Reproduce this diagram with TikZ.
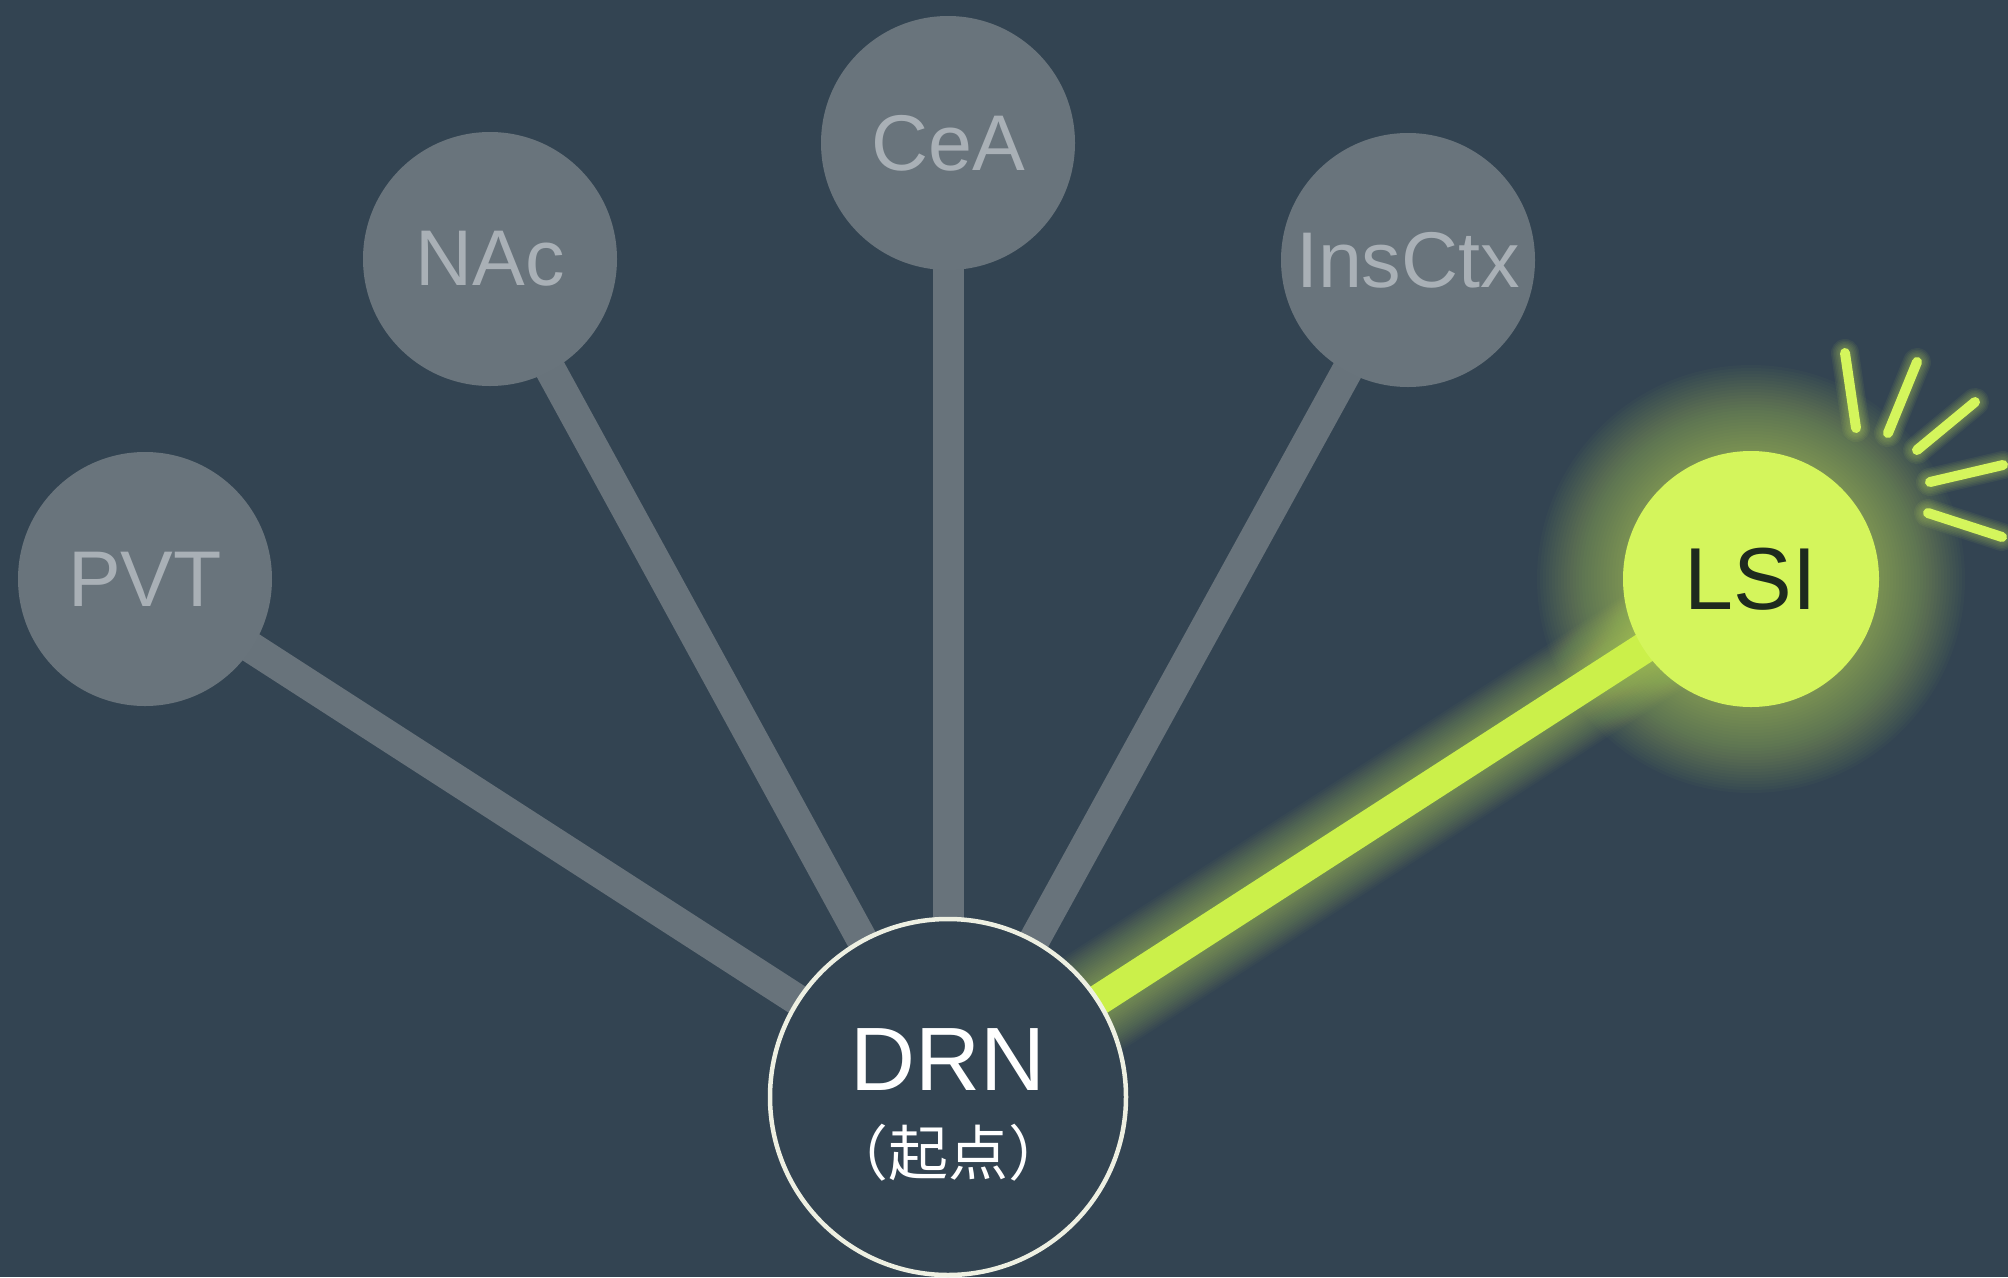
\documentclass[tikz,border=0pt]{standalone}
\usepackage{fontspec}
\setmainfont{Liberation Sans}
\newfontfamily\cjkfont{Noto Sans CJK SC}
\pgfdeclarelayer{under}
\pgfsetlayers{under,main}

\definecolor{slatebg}{HTML}{334452}
\definecolor{regiongray}{HTML}{69747C}
\definecolor{linkgray}{HTML}{68737B}
\definecolor{labelgray}{HTML}{A9B0B6}
\definecolor{litgreen}{HTML}{D4F55C}
\definecolor{litline}{HTML}{CBF04A}
\definecolor{darklabel}{HTML}{1E2A1E}
\definecolor{ringcream}{HTML}{EEF0E2}

\begin{document}
\begin{tikzpicture}[x=1pt,y=-1pt,
  region/.style={circle, fill=regiongray, minimum size=254pt, inner sep=0pt,
    text=labelgray, font=\fontsize{79}{80}\selectfont},
  active/.style={circle, fill=litgreen, minimum size=256pt, inner sep=0pt,
    text=darklabel, font=\fontsize{88}{90}\selectfont},
  origin/.style={circle, fill=slatebg, draw=ringcream, line width=4.5pt,
    minimum size=356pt, inner sep=0pt},
  link/.style={draw=linkgray, line width=31pt},
  litlink/.style={draw=litline, line width=31pt},
  glowline/.style={draw=litgreen, draw opacity=0.028, line cap=round},
  ray/.style={draw=litgreen, line width=10pt, line cap=round}]

% nodes
\node[region] (pvt) at (145,579) {PVT};
\node[region] (nac) at (490,259) {NAc};
\node[region] (cea) at (948,143) {CeA};
\node[region] (ins) at (1408,260) {InsCtx};
\node[active] (lsi) at (1751,579) {LSI};
\node[origin] (drn) at (948,1097) {};
\node[text=white, font=\fontsize{90}{92}\selectfont] (drnname) at (948,1060) {DRN};
\node[text=white, font=\cjkfont\fontsize{60}{62}\selectfont] (drnnote) at (948,1153) {（起点）};

% bursts beside the active region
\draw[ray] (1845,353) -- (1856,428);
\draw[ray] (1917,362) -- (1888,433);
\draw[ray] (1975,402) -- (1917,450);
\draw[ray] (2003,465) -- (1930,482);
\draw[ray] (1928,513) -- (2002,537);

\begin{pgfonlayer}{under}
  \fill[slatebg] (0,0) rectangle (2008,1277);
  \useasboundingbox (0,0) rectangle (2008,1277);
  % projections
  \draw[link] (pvt.center) -- (drn.center);
  \draw[link] (nac.center) -- (drn.center);
  \draw[link] (cea.center) -- (drn.center);
  \draw[link] (ins.center) -- (drn.center);
  % soft halo round the active projection and region
  \foreach \w in {34,38,...,110}
    \draw[glowline, line width=\w pt] (lsi.center) -- (drn.center);
  \foreach \r in {130,133,...,215}
    \fill[litgreen, fill opacity=0.022] (lsi.center) circle (\r);
  \foreach \r in {13,16,...,28}
    \draw[ray, draw opacity=0.06, line width=\r pt] (1845,353) -- (1856,428) (1917,362) -- (1888,433) (1975,402) -- (1917,450) (2003,465) -- (1930,482) (1928,513) -- (2002,537);
  \draw[litlink] (lsi.center) -- (drn.center);
\end{pgfonlayer}
\end{tikzpicture}
\end{document}
